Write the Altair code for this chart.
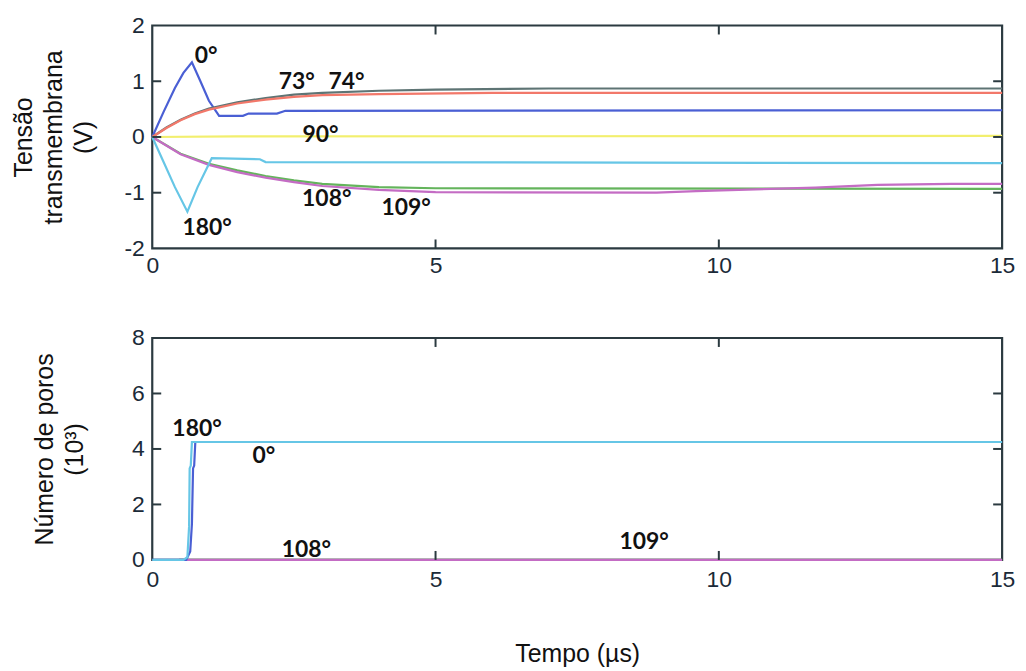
import altair as alt
import pandas as pd

# ---------------- Top panel: transmembrane voltage (V) vs time (µs) ----------------
series_names = ["0°", "73°", "74°", "90°", "108°", "109°", "180°"]
series_colors = ["#4a5fd4", "#5e7474", "#f2786a", "#f2ef6e", "#64b45c", "#c46cc4", "#66c6e6"]

t_0 = [0, 0.2, 0.4, 0.55, 0.7, 0.85, 1.0, 1.18, 1.6, 1.7, 2.2, 2.35, 15]
v_0 = [0, 0.45, 0.88, 1.15, 1.34, 1.0, 0.65, 0.38, 0.38, 0.42, 0.42, 0.47, 0.48]

t_73 = [0, 0.25, 0.5, 0.75, 1.0, 1.5, 2.0, 2.5, 3.0, 4.0, 5.0, 7.0, 15]
v_73 = [0, 0.17, 0.31, 0.42, 0.51, 0.62, 0.70, 0.76, 0.79, 0.83, 0.85, 0.87, 0.87]

t_74 = [0, 0.25, 0.5, 0.75, 1.0, 1.5, 2.0, 2.5, 3.0, 4.0, 6.0, 15]
v_74 = [0, 0.16, 0.30, 0.41, 0.49, 0.60, 0.67, 0.72, 0.75, 0.77, 0.79, 0.79]

t_90 = [0, 1.5, 15]
v_90 = [0, 0.01, 0.02]

t_108 = [0, 0.5, 1.0, 1.5, 2.0, 2.5, 3.0, 4.0, 5.0, 15]
v_108 = [0, -0.30, -0.48, -0.60, -0.70, -0.78, -0.84, -0.90, -0.92, -0.93]

t_109 = [0, 0.5, 1.0, 1.5, 2.0, 2.5, 3.0, 4.0, 5.0, 8.9, 9.6, 11.7, 12.8, 14.1, 15]
v_109 = [0, -0.31, -0.50, -0.63, -0.73, -0.81, -0.88, -0.95, -0.99, -1.0, -0.97, -0.91, -0.86, -0.84, -0.84]

t_180 = [0, 0.2, 0.4, 0.62, 0.8, 1.05, 1.9, 2.0, 15]
v_180 = [0, -0.45, -0.9, -1.34, -0.9, -0.38, -0.40, -0.45, -0.47]

top_t = [t_0, t_73, t_74, t_90, t_108, t_109, t_180]
top_v = [v_0, v_73, v_74, v_90, v_108, v_109, v_180]

top_label_text = ["0°", "73°", "74°", "90°", "180°", "108°", "109°"]
top_label_t = [0.95, 2.55, 3.43, 2.97, 0.97, 3.08, 4.48]
top_label_v = [1.46, 0.98, 0.98, 0.04, -1.63, -1.11, -1.27]

# ---------------- Bottom panel: number of pores (10^3) vs time (µs) ----------------
bot_names = ["108°", "109°", "0°", "180°"]
bt_108 = [0.47, 15]
bn_108 = [0, 0]
bt_109 = [0.47, 15]
bn_109 = [0, 0]
bt_0 = [0, 0.6, 0.67, 0.70, 0.72, 0.74, 0.76, 15]
bn_0 = [0, 0, 0.3, 1.3, 3.3, 3.4, 4.25, 4.25]
bt_180 = [0, 0.55, 0.62, 0.65, 0.66, 0.68, 0.70, 15]
bn_180 = [0, 0, 0.1, 1.2, 3.3, 3.4, 4.25, 4.25]

bot_t = [bt_108, bt_109, bt_0, bt_180]
bot_n = [bn_108, bn_109, bn_0, bn_180]

bot_label_text = ["180°", "0°", "108°", "109°"]
bot_label_t = [0.79, 1.97, 2.72, 8.68]
bot_label_n = [4.73, 3.76, 0.36, 0.65]

x_ticks = [0, 5, 10, 15]
x_inner_ticks = [5, 10]
top_y_ticks = [-2, -1, 0, 1, 2]
top_y_inner = [-1, 0, 1]
bot_y_ticks = [0, 2, 4, 6, 8]
bot_y_inner = [2, 4, 6]

# ---------------- build tables ----------------
rows = []
for name, ts, vs in zip(series_names, top_t, top_v):
    for i, (t, v) in enumerate(zip(ts, vs)):
        rows.append({"serie": name, "t": t, "v": v, "i": i})
top_df = pd.DataFrame(rows)

rows = []
for name, ts, vs in zip(bot_names, bot_t, bot_n):
    for i, (t, v) in enumerate(zip(ts, vs)):
        rows.append({"serie": name, "t": t, "v": v, "i": i})
bot_df = pd.DataFrame(rows)

top_lab = pd.DataFrame({"txt": top_label_text, "t": top_label_t, "v": top_label_v})
bot_lab = pd.DataFrame({"txt": bot_label_text, "t": bot_label_t, "v": bot_label_n})

W = 854
H1 = 224
H2 = 223
FRAME = "#2b3a40"
LABEL_COLOR = "#1b2a38"
TICK_LEN = 9

xscale = alt.Scale(domain=[0, 15], nice=False, zero=False)


def x_axis(title=None, pad=6, title_pad=0):
    kw = dict(values=x_ticks, ticks=False, domain=False, grid=False,
              labelFont="Liberation Sans", labelFontSize=23, labelColor=LABEL_COLOR,
              labelPadding=pad, labelFlush=False)
    if title:
        kw.update(title=title, titleFont="Liberation Sans", titleFontSize=25,
                  titleFontWeight="normal", titleColor="#111111", titlePadding=title_pad)
    else:
        kw.update(title=None)
    return alt.Axis(**kw)


def y_axis(values, title, title_x):
    return alt.Axis(values=values, ticks=False, domain=False, grid=False,
                    labelFont="Liberation Sans", labelFontSize=23, labelColor=LABEL_COLOR,
                    labelPadding=8, labelExpr="'' + datum.value",
                    title=title, titleFont="Liberation Sans", titleFontSize=25,
                    titleFontWeight="normal", titleColor="#111111",
                    titleLineHeight=30, titleBaseline="alphabetic", titleX=title_x)


def panel(df, lab, yvals, yinner, ydomain, height, names, colors, xax, yax):
    ysc = alt.Scale(domain=ydomain, nice=False, zero=False)
    X = alt.X("t:Q", scale=xscale, axis=xax)
    Y = alt.Y("v:Q", scale=ysc, axis=yax)
    lines = alt.Chart(df).mark_line(strokeWidth=2.2, interpolate="linear").encode(
        x=X, y=Y,
        color=alt.Color("serie:N", scale=alt.Scale(domain=names, range=colors), legend=None),
        order="i:Q",
    )
    texts = alt.Chart(lab).mark_text(font="Lato", fontSize=23, fontWeight="bold",
                                     color="#111111", align="center", baseline="middle").encode(
        x=X, y=Y, text="txt:N")
    xt = pd.DataFrame({"t": x_inner_ticks})
    yt = pd.DataFrame({"v": yinner})
    tick_top = alt.Chart(xt).mark_rule(color=FRAME, strokeWidth=2).encode(
        x=X, y=alt.value(0), y2=alt.value(TICK_LEN))
    tick_bot = alt.Chart(xt).mark_rule(color=FRAME, strokeWidth=2).encode(
        x=X, y=alt.value(height), y2=alt.value(height - TICK_LEN))
    tick_left = alt.Chart(yt).mark_rule(color=FRAME, strokeWidth=2).encode(
        y=Y, x=alt.value(0), x2=alt.value(TICK_LEN))
    tick_right = alt.Chart(yt).mark_rule(color=FRAME, strokeWidth=2).encode(
        y=Y, x=alt.value(W), x2=alt.value(W - TICK_LEN))
    return alt.layer(lines, texts, tick_top, tick_bot, tick_left, tick_right).properties(
        width=W, height=height)


top = panel(top_df, top_lab, top_y_ticks, top_y_inner, [-2, 2], H1,
            series_names, series_colors,
            x_axis(pad=6),
            y_axis(top_y_ticks, ["Tensão", "transmembrana", "(V)"], -121))

bottom = panel(bot_df, bot_lab, bot_y_ticks, bot_y_inner, [0, 8], H2,
               ["108°", "109°", "0°", "180°"], ["#c46cc4", "#64b45c", "#4a5fd4", "#66c6e6"],
               x_axis(title="Tempo (µs)", pad=9, title_pad=50),
               y_axis(bot_y_ticks, ["Número de poros", "(10³)"], -100))

chart = alt.vconcat(top, bottom, spacing=46).properties(
    padding={"left": 10, "top": 11, "right": 10, "bottom": 5},
    background="white",
).configure_view(stroke=FRAME, strokeWidth=2.2)

chart.save("out.html", embed_options={"renderer": "svg", "actions": False})
